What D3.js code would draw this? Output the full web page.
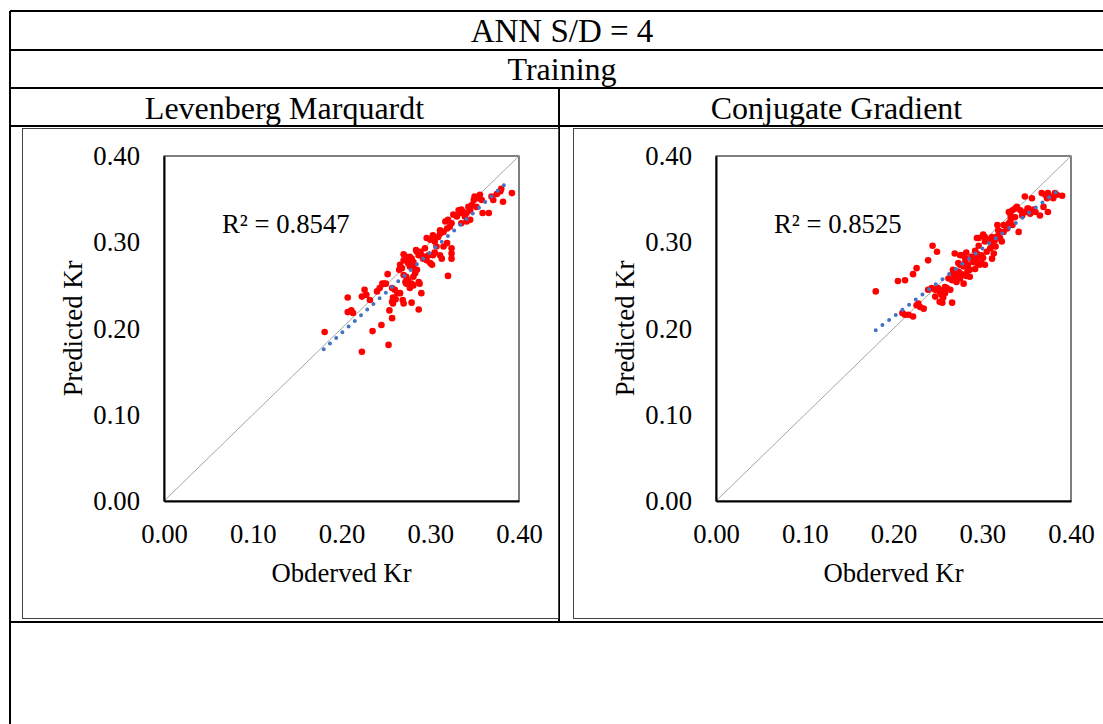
<!DOCTYPE html>
<html>
<head>
<meta charset="utf-8">
<script src="https://cdn.jsdelivr.net/npm/d3@7"></script>
<style>
  body { margin: 0; background: #fff; }
  svg { display: block; font-family: "Liberation Serif", "Times New Roman", serif; }
</style>
</head>
<body>
<svg id="chart" width="1103" height="724"></svg>
<script>
// table text
const mainTitle = 'ANN S/D = 4';
const subTitle = 'Training';
const methods = ['Levenberg Marquardt', 'Conjugate Gradient'];
const r2Labels = ['R² = 0.8547', 'R² = 0.8525'];
const tickValues = [0, 0.1, 0.2, 0.3, 0.4];

// observed vs predicted Kr, Levenberg Marquardt
const lmPoints = [
  [0.181,0.196],[0.223,0.173],[0.253,0.181],[0.235,0.197],[0.245,0.204],[0.257,0.212],
  [0.207,0.219],[0.211,0.221],[0.213,0.218],[0.207,0.236],[0.223,0.237],[0.228,0.239],[0.226,0.245],[0.232,0.233],
  [0.254,0.221],[0.257,0.231],[0.258,0.229],[0.240,0.243],[0.243,0.247],[0.246,0.252],[0.248,0.252],[0.250,0.252],
  [0.252,0.263],[0.257,0.247],[0.260,0.245],[0.263,0.241],[0.266,0.241],[0.258,0.236],[0.261,0.234],
  [0.269,0.233],[0.270,0.229],[0.279,0.230],[0.287,0.222],[0.290,0.241],[0.277,0.247],[0.281,0.250],[0.287,0.254],[0.288,0.252],
  [0.265,0.268],[0.268,0.270],[0.270,0.262],[0.273,0.260],[0.275,0.256],[0.272,0.254],
  [0.266,0.274],[0.270,0.279],[0.273,0.283],[0.275,0.276],[0.281,0.274],[0.285,0.268],[0.283,0.264],
  [0.270,0.286],[0.277,0.283],[0.285,0.289],[0.290,0.285],[0.294,0.283],[0.300,0.276],[0.302,0.274],[0.303,0.285],[0.305,0.288],
  [0.279,0.281],[0.281,0.277],[0.277,0.272],[0.283,0.268],[0.281,0.260],[0.279,0.252],[0.273,0.252],
  [0.284,0.291],[0.287,0.285],[0.289,0.289],[0.294,0.293],[0.292,0.281],[0.296,0.279],[0.298,0.285],
  [0.296,0.305],[0.300,0.303],[0.303,0.308],[0.305,0.301],[0.309,0.306],[0.311,0.310],[0.307,0.295],
  [0.311,0.285],[0.313,0.281],[0.315,0.295],[0.319,0.299],[0.324,0.293],[0.324,0.287],[0.324,0.281],[0.320,0.261],
  [0.311,0.314],[0.315,0.312],[0.319,0.316],[0.322,0.318],[0.317,0.324],[0.320,0.326],[0.324,0.322],
  [0.326,0.332],[0.330,0.330],[0.334,0.334],[0.332,0.337],[0.335,0.338],[0.337,0.335],[0.339,0.330],[0.341,0.334],
  [0.345,0.337],[0.343,0.341],[0.347,0.343],[0.335,0.322],[0.341,0.324],[0.345,0.326],
  [0.349,0.349],[0.350,0.353],[0.354,0.351],[0.356,0.355],[0.358,0.349],[0.352,0.341],
  [0.359,0.334],[0.366,0.334],
  [0.369,0.353],[0.371,0.349],[0.375,0.356],[0.379,0.359],[0.380,0.362],[0.382,0.347],[0.392,0.357]
];

// observed vs predicted Kr, Conjugate Gradient
const cgPoints = [
  [0.180,0.243],[0.205,0.255],[0.213,0.256],[0.222,0.263],[0.226,0.270],[0.239,0.279],[0.244,0.296],[0.249,0.289],
  [0.210,0.218],[0.213,0.216],[0.217,0.216],[0.222,0.214],[0.226,0.227],[0.230,0.225],[0.234,0.223],[0.228,0.229],
  [0.239,0.245],[0.243,0.247],[0.247,0.245],[0.250,0.247],[0.252,0.243],[0.256,0.245],[0.260,0.247],[0.264,0.245],
  [0.254,0.239],[0.258,0.241],[0.247,0.237],[0.256,0.236],[0.255,0.230],[0.266,0.230],[0.258,0.248],[0.252,0.231],
  [0.262,0.258],[0.266,0.256],[0.269,0.260],[0.271,0.254],[0.275,0.258],[0.279,0.252],
  [0.267,0.264],[0.273,0.266],[0.277,0.262],[0.282,0.264],[0.286,0.260],
  [0.269,0.287],[0.277,0.285],[0.282,0.288],
  [0.273,0.276],[0.275,0.274],[0.279,0.272],[0.281,0.277],[0.284,0.274],[0.290,0.277],[0.294,0.276],[0.286,0.268],
  [0.292,0.269],[0.297,0.274],[0.299,0.276],[0.303,0.274],
  [0.288,0.283],[0.292,0.290],[0.296,0.296],[0.299,0.285],[0.305,0.289],[0.309,0.293],[0.307,0.302],[0.311,0.306],
  [0.314,0.302],[0.312,0.296],[0.294,0.305],[0.303,0.306],
  [0.275,0.285],[0.281,0.281],[0.284,0.268],[0.275,0.264],[0.269,0.262],[0.267,0.268],[0.282,0.261],
  [0.288,0.281],[0.294,0.281],[0.294,0.287],[0.301,0.282],[0.311,0.281],[0.313,0.287],
  [0.296,0.305],[0.301,0.309],[0.303,0.301],[0.307,0.303],[0.311,0.297],[0.315,0.295],[0.313,0.305],[0.317,0.307],
  [0.320,0.305],[0.322,0.301],[0.320,0.311],[0.324,0.312],[0.318,0.314],[0.317,0.320],[0.324,0.320],[0.328,0.316],
  [0.330,0.322],[0.332,0.326],[0.334,0.320],[0.341,0.312],[0.337,0.329],[0.332,0.331],[0.330,0.335],[0.334,0.337],
  [0.337,0.339],[0.339,0.341],[0.343,0.337],[0.345,0.331],[0.349,0.335],[0.351,0.339],
  [0.352,0.339],[0.354,0.333],[0.358,0.338],[0.360,0.335],[0.365,0.331],[0.348,0.353],[0.356,0.351],[0.367,0.357],
  [0.371,0.355],[0.369,0.341],[0.374,0.335],[0.373,0.351],[0.374,0.357],[0.376,0.353],[0.382,0.357],[0.380,0.351],
  [0.390,0.354],[0.384,0.355]
];

// linear trendlines, end points
const lmTrend = [[0.180, 0.176], [0.388, 0.371]];
const cgTrend = [[0.180, 0.198], [0.388, 0.362]];

const svg = d3.select('#chart');

// table grid
const tbl = { left: 10, right: 1114, top: 11, rows: [50, 88, 126, 622], mid: 559 };
const grid = svg.append('g').attr('stroke', '#000').attr('stroke-width', 2);
grid.append('line').attr('x1', tbl.left).attr('x2', tbl.right).attr('y1', tbl.top).attr('y2', tbl.top);
grid.append('line').attr('x1', tbl.left).attr('x2', tbl.left).attr('y1', tbl.top).attr('y2', 724);
grid.append('line').attr('x1', tbl.right).attr('x2', tbl.right).attr('y1', tbl.top).attr('y2', 724);
tbl.rows.forEach(y => {
  grid.append('line').attr('x1', tbl.left).attr('x2', tbl.right).attr('y1', y).attr('y2', y);
});
grid.append('line').attr('x1', tbl.mid).attr('x2', tbl.mid).attr('y1', tbl.rows[1]).attr('y2', tbl.rows[3]);

const cx = (tbl.left + tbl.right) / 2;
svg.append('text').attr('x', cx).attr('y', 42).attr('text-anchor', 'middle')
  .attr('font-size', '33px').text(mainTitle);
svg.append('text').attr('x', cx).attr('y', 80).attr('text-anchor', 'middle')
  .attr('font-size', '32px').text(subTitle);

const panels = [
  { name: methods[0], points: lmPoints, trend: lmTrend, r2: r2Labels[0], colL: tbl.left, colR: tbl.mid, frameX: 22, frameW: 536, plotL: 164 },
  { name: methods[1], points: cgPoints, trend: cgTrend, r2: r2Labels[1], colL: tbl.mid, colR: tbl.right, frameX: 573, frameW: 540, plotL: 716 }
];

const plotW = 355, plotTop = 156, plotBottom = 501;
const fs = '26.7px';

panels.forEach(p => {
  svg.append('text').attr('x', (p.colL + p.colR) / 2).attr('y', 119).attr('text-anchor', 'middle')
    .attr('font-size', '32px').text(p.name);

  // chart area frame
  svg.append('rect').attr('x', p.frameX + 0.5).attr('y', 128.5).attr('width', p.frameW).attr('height', 490)
    .attr('fill', 'none').attr('stroke', '#444').attr('stroke-width', 1);

  const x = d3.scaleLinear().domain([0, 0.4]).range([p.plotL, p.plotL + plotW]);
  const y = d3.scaleLinear().domain([0, 0.4]).range([plotBottom, plotTop]);

  const g = svg.append('g');

  // plot area border
  g.append('rect').attr('x', x(0)).attr('y', y(0.4)).attr('width', plotW).attr('height', plotBottom - plotTop)
    .attr('fill', 'none').attr('stroke', '#000').attr('stroke-width', 1);

  // 1:1 line
  g.append('line').attr('x1', x(0)).attr('y1', y(0)).attr('x2', x(0.4)).attr('y2', y(0.4))
    .attr('stroke', '#a6a6a6').attr('stroke-width', 1);

  // axes
  const xAxis = g.append('g').attr('transform', `translate(0,${plotBottom})`)
    .call(d3.axisBottom(x).tickValues(tickValues).tickSize(0).tickPadding(23).tickFormat(d3.format('.2f')));
  const yAxis = g.append('g').attr('transform', `translate(${p.plotL},0)`)
    .call(d3.axisLeft(y).tickValues(tickValues).tickSize(0).tickPadding(24).tickFormat(d3.format('.2f')));
  [xAxis, yAxis].forEach(a => {
    a.attr('font-family', null).attr('font-size', null);
    a.selectAll('text').attr('font-size', fs).attr('fill', '#000');
    a.select('.domain').attr('stroke', '#000').attr('stroke-width', 2);
  });

  // points
  g.append('g').selectAll('circle').data(p.points).enter().append('circle')
    .attr('cx', d => x(d[0])).attr('cy', d => y(d[1])).attr('r', 3.3)
    .attr('fill', '#ff0000');

  // trendline (round dots)
  g.append('path').attr('d', d3.line().x(d => x(d[0])).y(d => y(d[1]))(p.trend))
    .attr('fill', 'none').attr('stroke', '#4472c4').attr('stroke-width', 4)
    .attr('stroke-linecap', 'round').attr('stroke-dasharray', '0 8.4');

  g.append('text').attr('x', p.plotL + 58).attr('y', 233).attr('font-size', fs).text(p.r2);

  g.append('text').attr('x', p.plotL + plotW / 2).attr('y', 582).attr('text-anchor', 'middle')
    .attr('font-size', fs).text('Obderved Kr');
  g.append('text').attr('transform', `translate(${p.plotL - 82},${(plotTop + plotBottom) / 2}) rotate(-90)`)
    .attr('text-anchor', 'middle').attr('font-size', fs).text('Predicted Kr');
});
</script>
</body>
</html>
